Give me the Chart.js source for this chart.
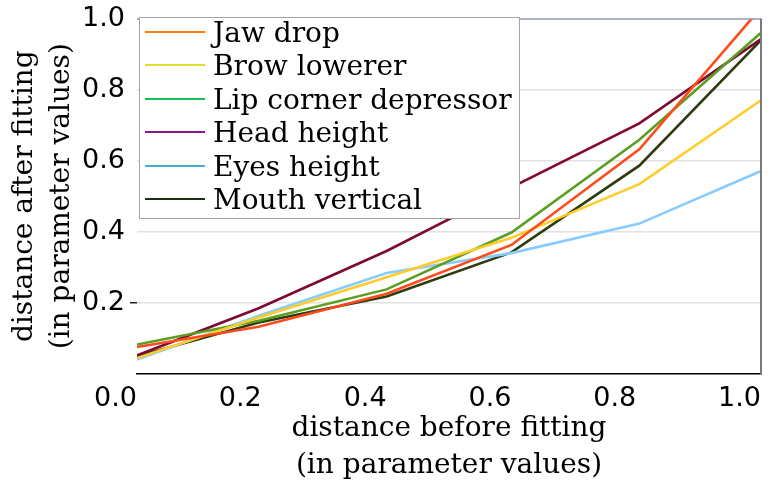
<!DOCTYPE html>
<html lang="en">
<head>
    <meta charset="UTF-8">
    <title>Distance before and after fitting</title>
    <script src="https://cdn.jsdelivr.net/npm/chart.js"></script>
    <style>
        body {
            margin: 0;
            background: #ffffff;
        }

        .wrap {
            position: relative;
            width: 778px;
            height: 485px;
        }

        .legend {
            position: absolute;
            left: 139px;
            top: 17px;
            width: 381px;
            height: 202px;
            box-sizing: border-box;
            border: 1.5px solid #a3a3a3;
            background: #ffffff;
            font-family: 'DejaVu Serif', serif;
            font-size: 28px;
            color: #000000;
        }

        .legend .row {
            position: absolute;
            left: 5px;
            height: 32px;
            display: flex;
            align-items: center;
            white-space: nowrap;
        }

        .legend .swatch {
            width: 60px;
            height: 2px;
            margin-right: 8px;
        }
    </style>
</head>
<body>
    <div class="wrap">
        <canvas id="fitChart"></canvas>
        <div class="legend" id="legend"></div>
    </div>

    <script>
        // distance before fitting (x) for each measured point
        const before = [0, 0.195, 0.4, 0.6, 0.805, 1.0];

        const names = ['Jaw drop', 'Brow lowerer', 'Lip corner depressor', 'Head height', 'Eyes height', 'Mouth vertical'];

        // distance after fitting, one array per parameter
        const jawDrop = [0.076, 0.133, 0.226, 0.363, 0.632, 1.03];
        const browLowerer = [0.045, 0.159, 0.272, 0.383, 0.534, 0.77];
        const lipCorner = [0.083, 0.15, 0.238, 0.398, 0.659, 0.96];
        const headHeight = [0.052, 0.185, 0.346, 0.525, 0.705, 0.942];
        const eyesHeight = [0.041, 0.164, 0.284, 0.34, 0.423, 0.571];
        const mouthVertical = [0.05, 0.145, 0.218, 0.342, 0.586, 0.939];

        const xTicks = [0, 0.2, 0.4, 0.6, 0.8, 1.0];
        const yTicks = [0, 0.2, 0.4, 0.6, 0.8, 1.0];

        const lineColors = ['#ff4b1c', '#ffcc2a', '#5a9e22', '#7d0a35', '#88ccff', '#2e3b0e'];
        const swatchColors = ['#ff7a10', '#dede30', '#10c050', '#8a1a8a', '#40b0d0', '#1a2e10'];

        const series = [jawDrop, browLowerer, lipCorner, headHeight, eyesHeight, mouthVertical];

        const datasets = series.map(function (vals, i) {
            return {
                label: names[i],
                data: vals.map(function (v, j) { return { x: before[j], y: v }; }),
                borderColor: lineColors[i],
                backgroundColor: lineColors[i],
                borderWidth: 2.6,
                pointRadius: 0,
                tension: 0,
                clip: 0
            };
        });

        // top and right edges of the plot frame
        const framePlugin = {
            id: 'frame',
            afterDraw: function (chart) {
                const a = chart.chartArea;
                const ctx = chart.ctx;
                ctx.save();
                ctx.lineWidth = 1.5;
                ctx.strokeStyle = '#8c9db0';
                ctx.beginPath();
                ctx.moveTo(a.left, a.top + 0.5);
                ctx.lineTo(a.right, a.top + 0.5);
                ctx.stroke();
                ctx.lineWidth = 2;
                ctx.strokeStyle = '#7a7a7a';
                ctx.beginPath();
                ctx.moveTo(a.right, a.top);
                ctx.lineTo(a.right, a.bottom);
                ctx.stroke();
                ctx.restore();
            }
        };

        new Chart(document.getElementById('fitChart'), {
            type: 'line',
            data: { datasets: datasets },
            options: {
                responsive: true,
                maintainAspectRatio: false,
                animation: false,
                layout: { padding: { top: 14, right: 17, left: 0, bottom: 0 } },
                plugins: {
                    legend: { display: false },
                    tooltip: { enabled: false }
                },
                scales: {
                    x: {
                        type: 'linear',
                        min: 0,
                        max: 1,
                        afterBuildTicks: function (scale) {
                            scale.ticks = xTicks.map(function (v) { return { value: v }; });
                        },
                        afterFit: function (scale) { scale.height = 111; },
                        ticks: {
                            align: 'end',
                            maxRotation: 0,
                            autoSkip: false,
                            padding: 9,
                            color: '#000000',
                            font: { family: 'DejaVu Sans', size: 27 },
                            callback: function (v) { return v.toFixed(1); }
                        },
                        grid: { display: false, drawTicks: false },
                        border: { display: true, color: '#000000', width: 1.5 },
                        title: {
                            display: true,
                            text: ['distance before fitting', '(in parameter values)'],
                            color: '#000000',
                            font: { family: 'DejaVu Serif', size: 28, lineHeight: 1.32 },
                            padding: { top: 0, bottom: 1 }
                        }
                    },
                    y: {
                        min: 0,
                        max: 1,
                        afterBuildTicks: function (scale) {
                            scale.ticks = yTicks.map(function (v) { return { value: v }; });
                        },
                        afterFit: function (scale) { scale.width = 137; },
                        ticks: {
                            padding: 5,
                            color: '#000000',
                            font: { family: 'DejaVu Sans', size: 27, lineHeight: 1 },
                            callback: function (v) { return v === 0 ? '' : v.toFixed(1); }
                        },
                        grid: {
                            lineWidth: 1.5,
                            tickLength: 7,
                            color: function (c) {
                                const v = c.tick ? c.tick.value : 0;
                                return (v > 0.01 && v < 0.99) ? '#e2e2e2' : 'rgba(0,0,0,0)';
                            },
                            tickColor: function (c) {
                                const v = c.tick ? c.tick.value : 0;
                                return Math.abs(v - 0.2) < 0.01 ? '#222222' : 'rgba(0,0,0,0)';
                            }
                        },
                        border: { display: false },
                        title: {
                            display: true,
                            text: ['distance after fitting', '(in parameter values)'],
                            color: '#000000',
                            font: { family: 'DejaVu Serif', size: 28, lineHeight: 1.32 },
                            padding: { top: 6, bottom: 0 }
                        }
                    }
                }
            },
            plugins: [framePlugin]
        });

        // legend box drawn over the upper left of the plot
        const legend = document.getElementById('legend');
        names.forEach(function (name, i) {
            const row = document.createElement('div');
            row.className = 'row';
            row.style.top = Math.round(-2 + i * 33.4) + 'px';
            const sw = document.createElement('span');
            sw.className = 'swatch';
            sw.style.background = swatchColors[i];
            const txt = document.createElement('span');
            txt.textContent = name;
            row.appendChild(sw);
            row.appendChild(txt);
            legend.appendChild(row);
        });
    </script>
</body>
</html>
